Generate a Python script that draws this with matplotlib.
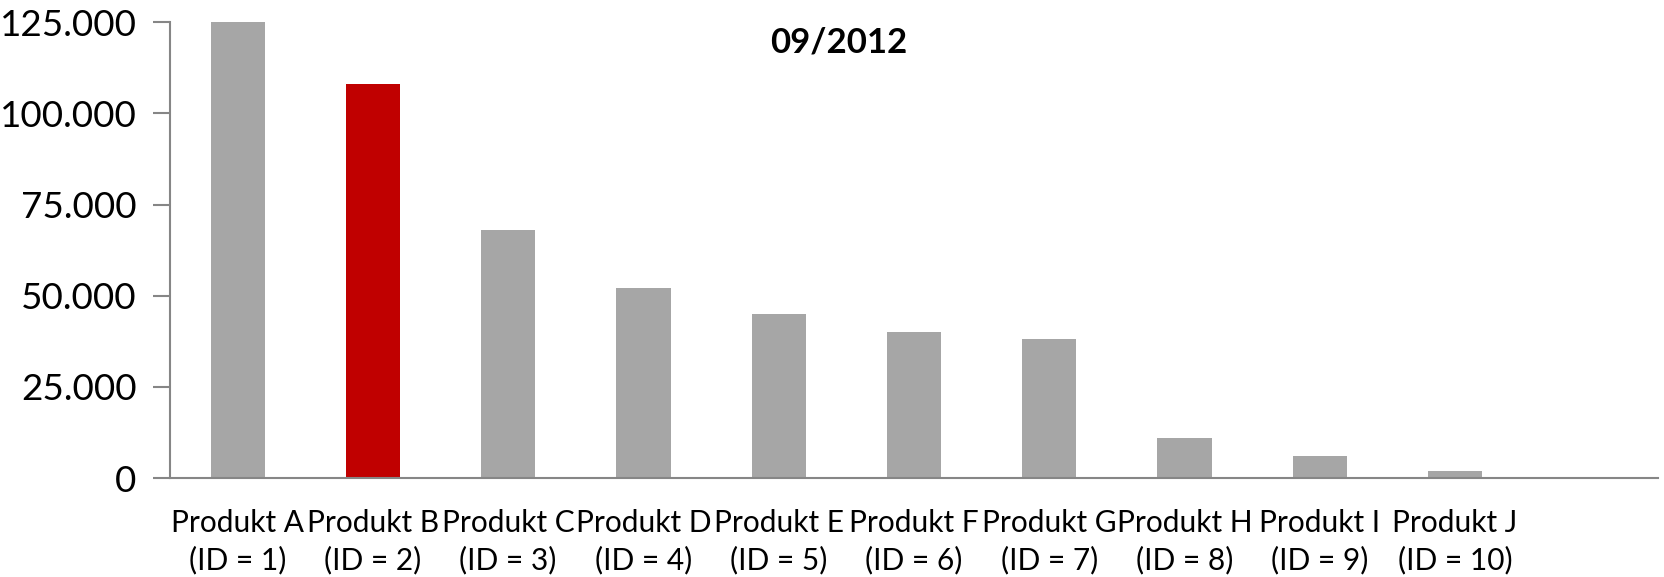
import matplotlib
matplotlib.use("Agg")
import matplotlib.pyplot as plt
from matplotlib.ticker import FuncFormatter

# data
products = ["Produkt A", "Produkt B", "Produkt C", "Produkt D", "Produkt E",
            "Produkt F", "Produkt G", "Produkt H", "Produkt I", "Produkt J"]
ids = [1, 2, 3, 4, 5, 6, 7, 8, 9, 10]
values = [125000, 108000, 68000, 52000, 45000, 40000, 38000, 11000, 6000, 2000]
highlight = "Produkt B"
title = "09/2012"
y_ticks = [0, 25000, 50000, 75000, 100000, 125000]

GRAY = "#A6A6A6"
RED = "#C00000"
AXIS = "#868686"

plt.rcParams["font.family"] = ["Lato", "DejaVu Sans"]

fig = plt.figure(figsize=(16.65, 5.77), dpi=100)
ax = fig.add_axes([170 / 1665, 1 - 478 / 577, (1658 - 170) / 1665, (478 - 22.3) / 577])

colors = [RED if p == highlight else GRAY for p in products]
positions = list(range(len(products)))
ax.bar(positions, values, width=0.4, color=colors, zorder=2)

# one empty slot at the right like in the original
ax.set_xlim(-0.5, len(products) + 0.5)
ax.set_ylim(0, 125000)

labels = [f"{p}\n(ID = {i})" for p, i in zip(products, ids)]
ax.set_xticks(positions)
ax.set_xticklabels(labels, fontsize=21.5, linespacing=1.4)
ax.tick_params(axis="x", length=0, pad=22)

ax.set_yticks(y_ticks)
ax.yaxis.set_major_formatter(FuncFormatter(lambda v, _: f"{int(v):,}".replace(",", ".")))
ax.tick_params(axis="y", labelsize=26.5, length=12, width=1.5, color=AXIS, pad=12)

for side in ("top", "right"):
    ax.spines[side].set_visible(False)
for side in ("left", "bottom"):
    ax.spines[side].set_color(AXIS)
    ax.spines[side].set_linewidth(1.5)

ax.text((839 - 170) / 1488, (478 - 42.5) / (478 - 22.3), title,
        transform=ax.transAxes, ha="center", va="center",
        fontsize=25, fontweight="bold")

fig.savefig("out.png", dpi=100)
